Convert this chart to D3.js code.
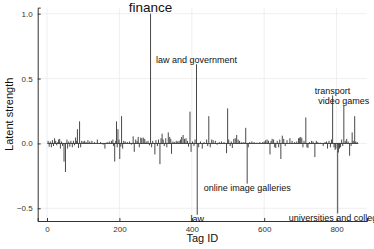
<!DOCTYPE html>
<html>
<head>
<meta charset="utf-8">
<script src="https://cdn.jsdelivr.net/npm/d3@7"></script>
<style>
  body { margin: 0; background: #fff; }
  svg text { font-family: "Liberation Sans", Arial, sans-serif; }
</style>
</head>
<body>
<div id="chart"></div>
<script>
// sparse latent vector: tags not listed are 0
const tagCount = 860;
const tagIds = [
  3, 6, 9, 12, 15, 18, 21, 24, 27, 30, 32, 35, 37, 40, 43, 47, 51, 55, 57, 60, 63, 66, 70, 73, 76, 79, 82, 84, 87, 90, 93, 96, 100, 104, 108, 113, 118, 124, 131, 139,
  148, 155, 160, 166, 172, 178,
  182, 184, 187, 190, 192, 194, 196, 199, 201, 204, 206, 209, 212, 216, 222, 228, 233, 238, 241, 245, 249, 252, 255, 259, 262, 266, 270, 274, 279, 283, 286, 289, 292,
  298, 301, 305, 308, 312, 315, 318, 321, 324, 328, 331, 335, 339, 342, 344, 348, 352, 357, 361, 365, 369, 372, 376, 380, 384, 388, 391, 395, 398, 402, 406, 409, 413, 415, 419, 424, 429, 434, 441, 444, 447, 451, 455, 459,
  465, 470, 476, 482, 489, 496, 499, 502, 506, 509, 512, 516, 520, 524, 528, 532, 538, 544, 549, 553, 556, 560,
  566, 572, 580, 588, 596, 600, 604, 608, 612, 616, 619, 622, 626, 629, 632, 636, 640, 643, 646, 650, 654, 658, 663, 671, 677,
  684, 690, 695, 698, 701, 704, 707, 710, 715, 718, 721, 725, 731, 735, 740, 744, 748, 755,
  763, 768, 772, 775, 779, 783, 786, 789, 793, 796, 798, 803, 805, 808, 811, 814, 817, 820, 824, 828, 832, 836, 840, 843, 846, 850, 853, 857
];
const strengths = [
  0.02, -0.025, 0.015, -0.03, 0.025, -0.02, 0.04, 0.02, -0.015, 0.01, 0.03, 0.035, -0.04, 0.015, -0.02, -0.14, -0.22, 0.03, -0.04, 0.015, -0.025, 0.02, -0.03, 0.02, -0.015, 0.045, 0.02, 0.11, -0.035, 0.17, -0.03, 0.02, 0.015, 0.02, 0.01, 0.025, 0.015, 0.02, 0.01, 0.03,
  0.01, -0.01, -0.04, 0.01, 0.015, 0.02,
  0.03, -0.02, -0.14, 0.02, 0.17, -0.03, 0.11, 0.03, -0.12, -0.025, 0.21, -0.04, 0.02, 0.015, 0.01, 0.015, -0.01, 0.055, -0.065, 0.03, 0.02, 0.05, -0.03, 0.045, 0.04, 0.045, 0.035, 0.015, 0.02, -0.015, 1.0, -0.03, 0.02,
  -0.085, 0.025, -0.02, 0.03, -0.16, 0.04, 0.075, 0.03, -0.02, 0.04, -0.03, 0.085, 0.05, 0.035, -0.08, 0.015, 0.01, 0.02, 0.015, 0.02, 0.03, 0.05, 0.065, 0.035, 0.04, 0.02, -0.025, 0.245, -0.065, 0.015, -0.02, 0.03, 0.61, -0.55, -0.03, 0.015, -0.04, 0.01, 0.03, -0.02, 0.21, -0.03, 0.03, 0.025,
  0.02, -0.01, 0.01, 0.015, 0.01, -0.075, 0.27, 0.03, -0.02, 0.015, -0.035, 0.035, 0.04, 0.065, 0.03, 0.02, 0.01, 0.01, 0.12, -0.31, -0.03, 0.01,
  0.015, 0.01, 0.005, 0.01, 0.01, 0.015, 0.025, 0.03, 0.02, -0.085, 0.02, 0.035, 0.03, -0.03, -0.035, 0.02, -0.03, 0.03, -0.12, 0.06, 0.035, -0.02, 0.025, 0.04, 0.02,
  0.01, 0.015, 0.04, 0.045, 0.05, 0.04, -0.03, 0.02, 0.2, -0.03, -0.035, 0.01, 0.02, 0.015, -0.105, 0.02, 0.01, 0.005,
  -0.02, 0.01, 0.015, -0.04, 0.02, -0.03, 0.03, 0.37, -0.03, -0.05, -0.04, -0.54, -0.07, -0.04, -0.03, 0.03, -0.02, 0.29, 0.02, 0.035, 0.015, -0.095, -0.02, 0.085, 0.02, 0.21, 0.015, 0.01
];
const labelNames = ['finance', 'law and government', 'law', 'online image galleries', 'transport', 'universities and colleges', 'video games'];
const labelTags = [286, 413, 415, 553, 789, 803, 820];
const xTicks = [0, 200, 400, 600, 800];
const yTicks = [-0.5, 0.0, 0.5, 1.0];

const W = 374, H = 249;
const margin = { top: 7.6, right: 7, bottom: 28, left: 37.7 };

const data = tagIds.map((t, i) => ({ x: t, y: strengths[i] }));

const xScale = d3.scaleLinear().domain([-25.7, 884]).range([margin.left, W - margin.right]);
const yScale = d3.scaleLinear().domain([-0.598, 1.047]).range([H - margin.bottom, margin.top]);

const svg = d3.select('#chart').append('svg')
  .attr('width', W)
  .attr('height', H);

// grid
svg.append('g').selectAll('line.gx')
  .data(xTicks).enter().append('line')
  .attr('x1', d => xScale(d)).attr('x2', d => xScale(d))
  .attr('y1', yScale.range()[0]).attr('y2', yScale.range()[1])
  .style('stroke', '#ebebeb').style('stroke-width', 0.8);
svg.append('g').selectAll('line.gy')
  .data(yTicks).enter().append('line')
  .attr('x1', xScale.range()[0]).attr('x2', xScale.range()[1])
  .attr('y1', d => yScale(d)).attr('y2', d => yScale(d))
  .style('stroke', '#ebebeb').style('stroke-width', 0.8);

// axes
const xAxis = d3.axisBottom(xScale).tickValues(xTicks).tickSize(-3).tickPadding(5).tickFormat(d3.format('d'));
const yAxis = d3.axisLeft(yScale).tickValues(yTicks).tickSize(-3).tickPadding(5).tickFormat(d => d3.format('.1f')(d).replace('-', '- '));

const gx = svg.append('g')
  .attr('transform', `translate(0,${H - margin.bottom})`)
  .call(xAxis);
const gy = svg.append('g')
  .attr('transform', `translate(${margin.left},0)`)
  .call(yAxis);
[gx, gy].forEach(g => {
  g.select('.domain').style('stroke', '#333').style('stroke-width', 1);
  g.selectAll('.tick line').style('stroke', '#333');
  g.selectAll('.tick text').style('font-size', '8px').style('fill', '#333')
    .style('font-family', '"Liberation Sans", Arial, sans-serif');
});

// zero baseline + sticks
svg.append('line')
  .attr('x1', xScale(1)).attr('x2', xScale(tagCount))
  .attr('y1', yScale(0)).attr('y2', yScale(0))
  .style('stroke', '#444').style('stroke-width', 1);

svg.append('g').selectAll('line.stick')
  .data(data).enter().append('line')
  .attr('class', 'stick')
  .attr('x1', d => xScale(d.x)).attr('x2', d => xScale(d.x))
  .attr('y1', yScale(0)).attr('y2', d => yScale(d.y))
  .style('stroke', '#333').style('stroke-width', 0.9);

// annotations
const valueOf = t => strengths[tagIds.indexOf(t)];
svg.append('g').selectAll('text.lab')
  .data(labelNames).enter().append('text')
  .attr('x', (d, i) => xScale(labelTags[i]))
  .attr('y', (d, i) => {
    const v = valueOf(labelTags[i]);
    return yScale(v + Math.sign(v) * (i === 0 ? 0.045 : 0.035));
  })
  .attr('text-anchor', 'middle')
  .attr('dominant-baseline', 'central')
  .style('font-size', (d, i) => (i === 0 ? '13.5px' : '9px'))
  .style('fill', '#111')
  .text(d => d);

// axis titles
svg.append('text')
  .attr('x', (xScale.range()[0] + xScale.range()[1]) / 2)
  .attr('y', 242)
  .attr('text-anchor', 'middle')
  .style('font-size', '11px').style('fill', '#111')
  .text('Tag ID');
svg.append('text')
  .attr('transform', `translate(13,${(yScale.range()[0] + yScale.range()[1]) / 2}) rotate(-90)`)
  .attr('text-anchor', 'middle')
  .style('font-size', '11px').style('fill', '#111')
  .text('Latent strength');
</script>
</body>
</html>
